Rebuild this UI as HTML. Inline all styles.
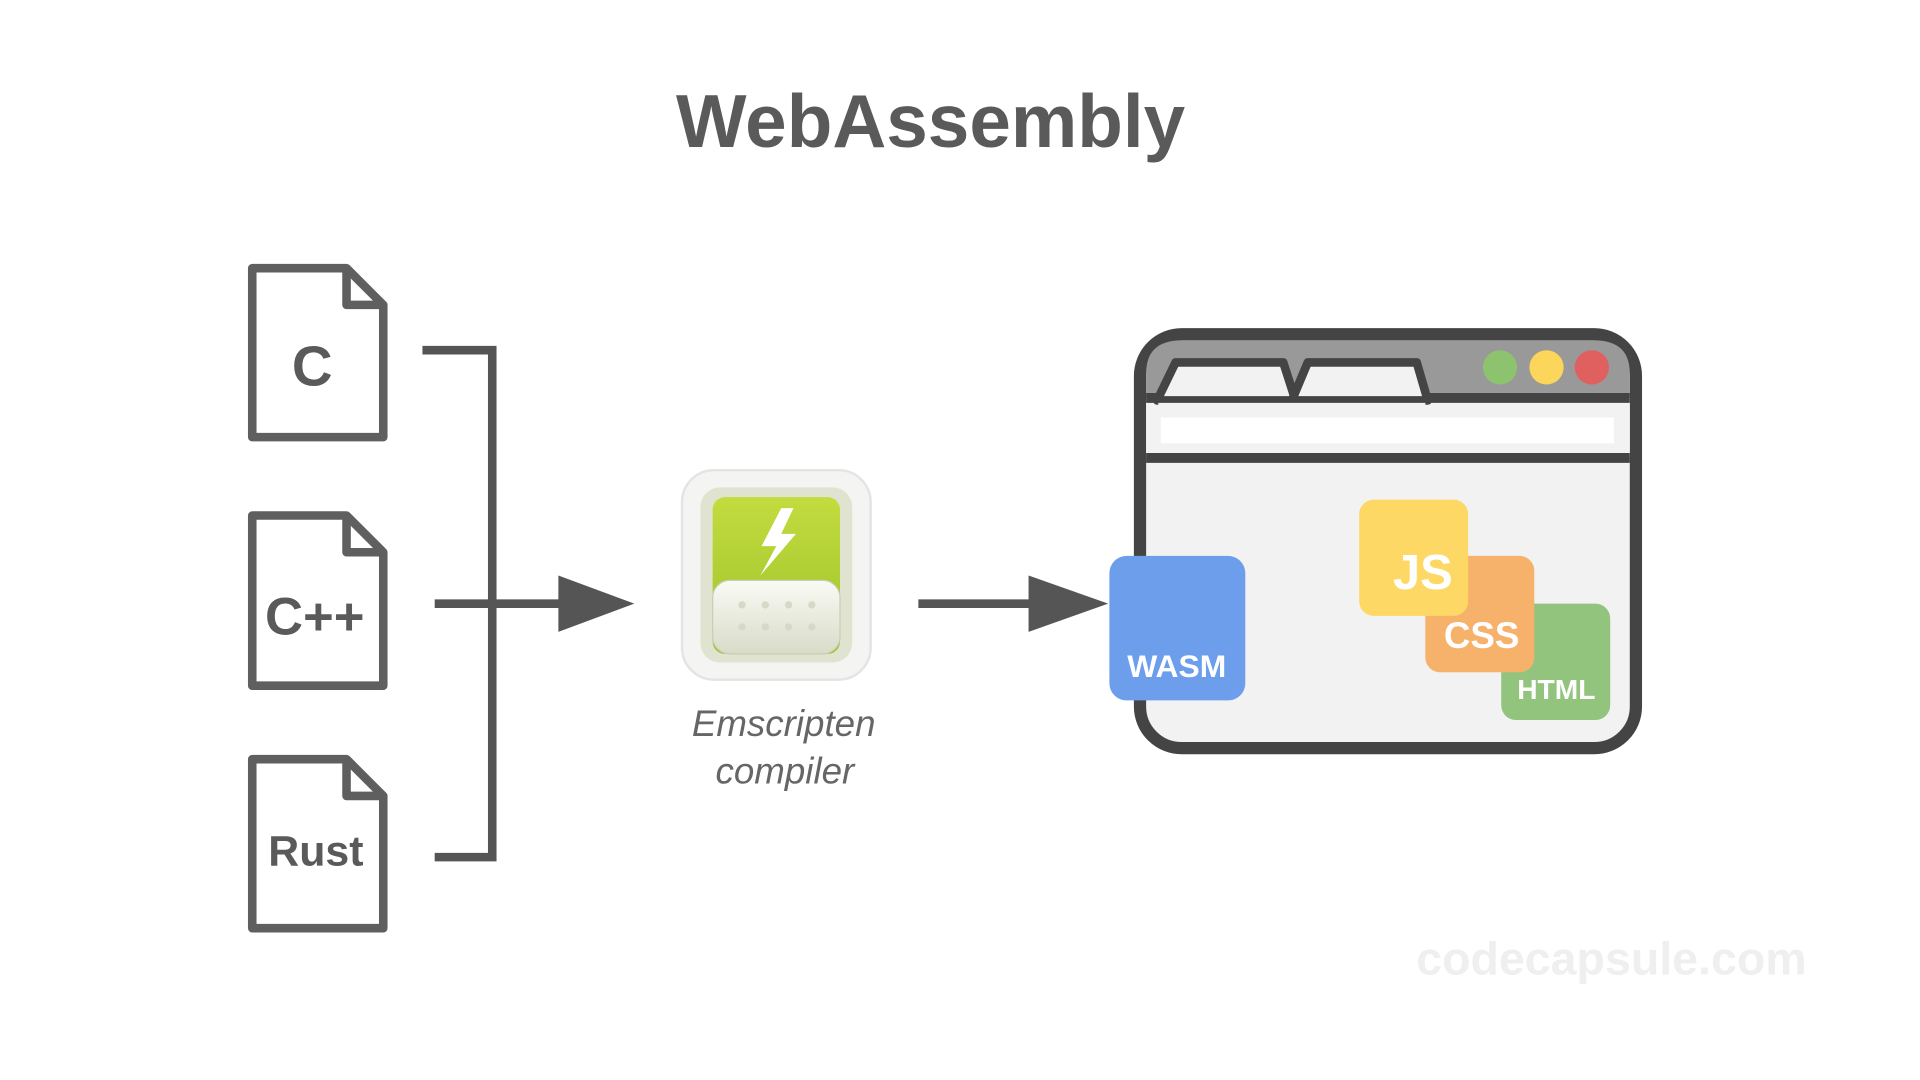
<!DOCTYPE html>
<html><head><meta charset="utf-8"><style>html,body{margin:0;padding:0;background:#fff;width:1920px;height:1080px;overflow:hidden}</style></head><body>
<svg width="1920" height="1080" viewBox="0 0 1568 882" xmlns="http://www.w3.org/2000/svg" font-family="Liberation Sans, sans-serif">
<defs>
<linearGradient id="g" x1="0" y1="0" x2="0" y2="1"><stop offset="0" stop-color="#c3dc3f"/><stop offset="1" stop-color="#9cc22a"/></linearGradient>
<linearGradient id="w" x1="0" y1="0" x2="0" y2="1"><stop offset="0" stop-color="#fafaf5"/><stop offset="1" stop-color="#d8dcc8"/></linearGradient>
</defs>
<text x="760" y="120" text-anchor="middle" font-size="61" font-weight="bold" fill="#5a5a5a">WebAssembly</text>
<g fill="#fff" stroke="#5f5f5f" stroke-width="7" stroke-linejoin="round">
<path d="M206 219H283L313 249V357H206Z"/><path d="M283 219V249H313" fill="none"/>
<path d="M206 421H283L313 451V560H206Z"/><path d="M283 421V451H313" fill="none"/>
<path d="M206 620H283L313 650V758H206Z"/><path d="M283 620V650H313" fill="none"/>
</g>
<g font-weight="bold" fill="#5a5a5a" text-anchor="middle">
<text x="255" y="315" font-size="46">C</text>
<text x="257" y="518" font-size="43">C++</text>
<text x="258" y="707" font-size="35">Rust</text>
</g>
<path d="M345 286H402V700H355" fill="none" stroke="#555" stroke-width="7"/>
<path d="M355 493H462" stroke="#555" stroke-width="7"/>
<path d="M456 470L518 493L456 516Z" fill="#555"/>
<path d="M750 493H846" stroke="#555" stroke-width="7"/>
<path d="M840 470L905 493L840 516Z" fill="#555"/>
<rect x="557" y="384" width="154" height="171" rx="26" fill="#f4f4f2" stroke="#e4e4e4" stroke-width="2"/>
<rect x="572" y="398" width="124" height="143" rx="16" fill="#dfe3cf"/>
<rect x="582" y="406" width="104" height="128" rx="10" fill="url(#g)"/>
<path d="M638 415L622 446H634L621 470L650 436H638L648 415Z" fill="#fff"/>
<rect x="582" y="474" width="104" height="60" rx="14" fill="url(#w)" stroke="#c9cdb7"/>
<g fill="#d6d9c8"><circle cx="606" cy="494" r="3"/><circle cx="625" cy="494" r="3"/><circle cx="644" cy="494" r="3"/><circle cx="663" cy="494" r="3"/><circle cx="606" cy="512" r="3"/><circle cx="625" cy="512" r="3"/><circle cx="644" cy="512" r="3"/><circle cx="663" cy="512" r="3"/></g>
<g font-style="italic" font-size="30" fill="#666" text-anchor="middle">
<text x="640" y="601">Emscripten</text><text x="641" y="640">compiler</text>
</g>
<rect x="931" y="273" width="405" height="338" rx="34" fill="#f2f2f2" stroke="#444" stroke-width="10"/>
<path d="M936 325V305Q936 278 965 278H1302Q1331 278 1331 305V325Z" fill="#999"/>
<rect x="936" y="325" width="395" height="48" fill="#f2f2f2"/>
<path d="M936 325H1331M936 374H1331" stroke="#444" stroke-width="8"/>
<path d="M945 327L960 296H1048L1058 327Z" fill="#f2f2f2" stroke="#444" stroke-width="7" stroke-linejoin="round"/>
<path d="M1055 327L1068 296H1157L1166 327Z" fill="#f2f2f2" stroke="#444" stroke-width="7" stroke-linejoin="round"/>
<rect x="946" y="329" width="218" height="8" fill="#f2f2f2"/>
<rect x="948" y="341" width="370" height="21" fill="#fff"/>
<circle cx="1225" cy="300" r="14" fill="#8dc26f"/><circle cx="1263" cy="300" r="14" fill="#fcd65a"/><circle cx="1300" cy="300" r="14" fill="#e06060"/>
<rect x="1226" y="493" width="89" height="95" rx="12" fill="#93c47d"/>
<rect x="1164" y="454" width="89" height="95" rx="12" fill="#f6b26b"/>
<rect x="1110" y="408" width="89" height="95" rx="12" fill="#fdd865"/>
<rect x="906" y="454" width="111" height="118" rx="14" fill="#6d9eeb"/>
<g fill="#fff" font-weight="bold" text-anchor="middle">
<text x="1162" y="481" font-size="40">JS</text>
<text x="1210" y="529" font-size="30">CSS</text>
<text x="1271" y="571" font-size="23">HTML</text>
<text x="961" y="553" font-size="26">WASM</text>
</g>
<text x="1316" y="796" text-anchor="middle" font-size="38" font-weight="bold" fill="#efefef">codecapsule.com</text>
</svg>
</body></html>
